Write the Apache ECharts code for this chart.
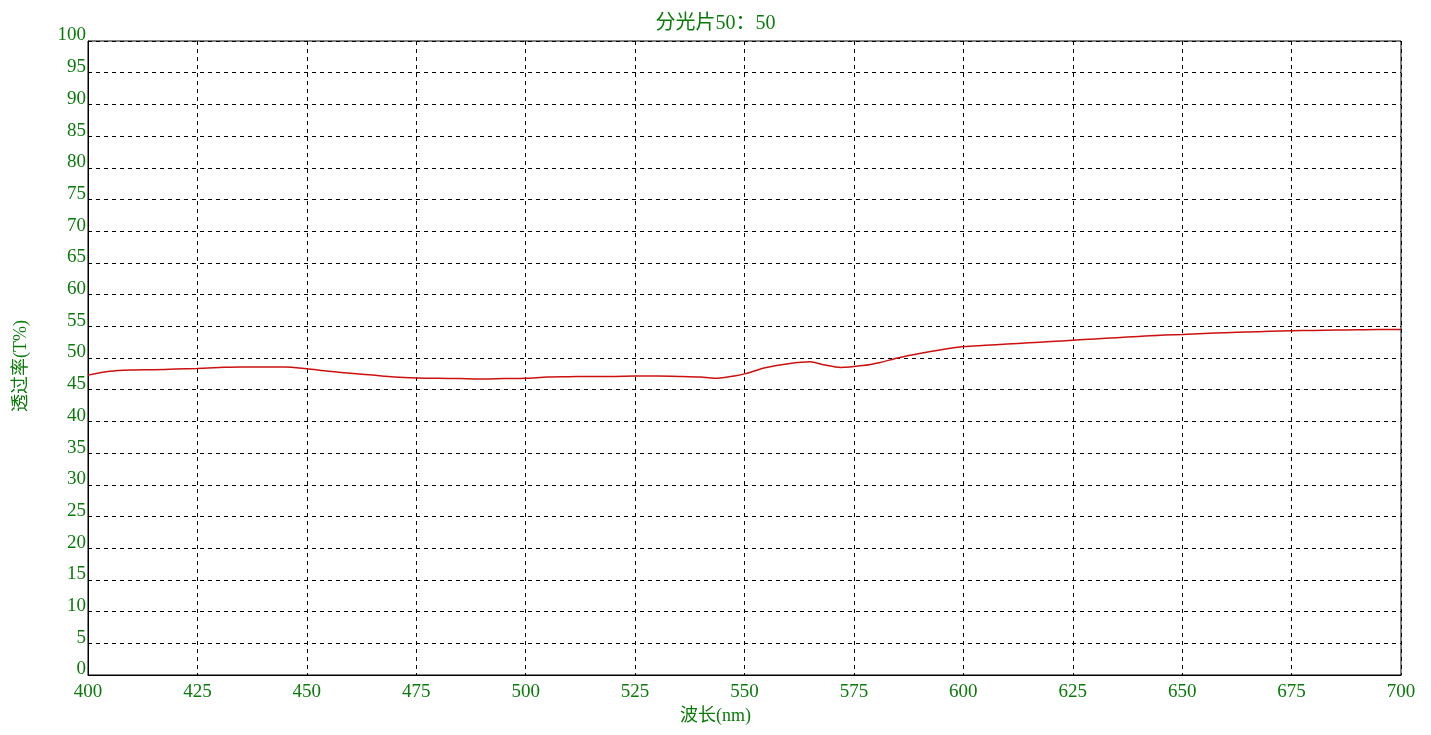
<!DOCTYPE html>
<html><head><meta charset="utf-8">
<script src="https://cdn.jsdelivr.net/npm/echarts@6/dist/echarts.min.js"></script>
<style>html,body{margin:0;padding:0;background:#fff}#c{width:1431px;height:735px}</style>
</head><body><div id="c"></div>
<script>
const wavelengths = [400,405,410,415,420,425,430,435,440,445,450,455,460,465,470,475,480,485,490,495,500,505,510,515,520,525,530,535,540,543,545,548,550,555,560,565,568,572,577,581,585,590,595,600,605,610,615,620,625,630,635,640,645,650,655,660,665,670,675,680,685,690,695,700];
const transmittance = [47.3,47.9,48.1,48.15,48.25,48.35,48.5,48.6,48.6,48.6,48.3,47.9,47.6,47.3,47.0,46.85,46.8,46.75,46.7,46.75,46.8,47.0,47.05,47.1,47.1,47.15,47.15,47.1,47.0,46.8,46.9,47.2,47.5,48.5,49.1,49.4,48.95,48.5,48.8,49.3,50.0,50.7,51.3,51.8,52.0,52.2,52.4,52.6,52.8,53.0,53.2,53.4,53.6,53.7,53.85,54.0,54.1,54.2,54.3,54.35,54.4,54.45,54.5,54.5];
const titleText = '分光片50：50';
const xName = '波长(nm)';
const yName = '透过率(T%)';

const green = '#0a7a0a';
const font = '"Liberation Serif","Noto Sans CJK SC",serif';
const chart = echarts.init(document.getElementById('c'));
chart.setOption({
  animation: false,
  backgroundColor: '#fff',
  title: { text: titleText, left: 'center', top: 9, textStyle: { color: green, fontSize: 20, fontWeight: 'normal', fontFamily: font } },
  grid: { left: 88, right: 30, top: 41, bottom: 60, show: true, borderColor: '#000', borderWidth: 1, containLabel: false, outerBoundsMode: 'none' },
  xAxis: {
    type: 'value', min: 400, max: 700, interval: 25,
    name: xName, nameLocation: 'middle', nameGap: 30,
    nameTextStyle: { color: green, fontSize: 18, fontFamily: font, padding: [0, 58, 0, 0] },
    axisLine: { lineStyle: { color: '#000' } },
    axisTick: { show: false },
    axisLabel: { color: green, fontSize: 19, fontFamily: font, margin: 8 },
    splitLine: { show: true, lineStyle: { color: '#000', type: [4, 4], width: 1 } }
  },
  yAxis: {
    type: 'value', min: 0, max: 100, interval: 5,
    name: yName, nameLocation: 'middle', nameGap: 58, nameRotate: 90,
    nameTextStyle: { color: green, fontSize: 18, fontFamily: font, padding: [0, 16, 0, 0] },
    axisLine: { show: true, lineStyle: { color: '#000' } },
    axisTick: { show: false },
    axisLabel: { color: green, fontSize: 19, fontFamily: font, margin: 2, verticalAlign: 'bottom', lineHeight: 11 },
    splitLine: { show: true, lineStyle: { color: '#000', type: [4, 4], width: 1 } }
  },
  series: [{
    type: 'line', showSymbol: false, smooth: 0.3,
    data: wavelengths.map((w, i) => [w, transmittance[i]]),
    lineStyle: { color: '#cc1010', width: 1.5 }
  }]
});
</script></body></html>
